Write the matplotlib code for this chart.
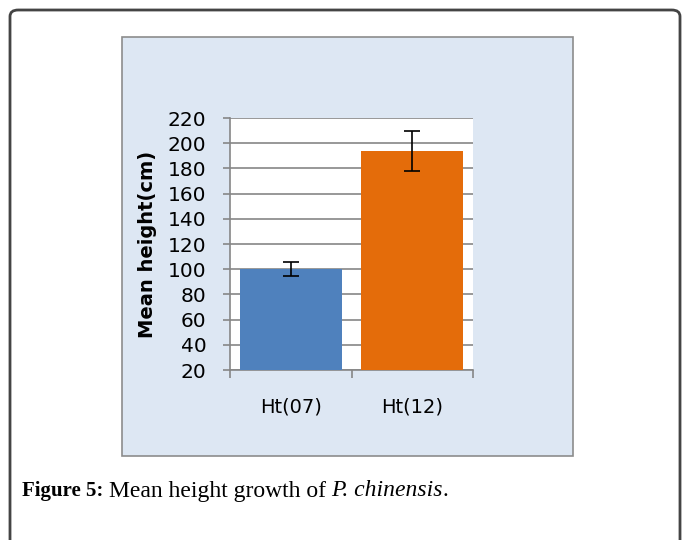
import matplotlib.pyplot as plt
from matplotlib.patches import FancyBboxPatch, Rectangle

# Data
categories = ["Ht(07)", "Ht(12)"]
means = [100, 194]
errors = [5.7, 16]
bar_colors = ["#4f81bd", "#e46c0a"]
yticks = list(range(20, 221, 20))

W, H = 683, 540
fig = plt.figure(figsize=(W / 100, H / 100), dpi=100)

# outer rounded frame of the figure block
frame = FancyBboxPatch((10 / W, -0.1), 670 / W, 1 - 10 / H + 0.1,
                       boxstyle="round,pad=0,rounding_size=0.012",
                       transform=fig.transFigure, facecolor="white",
                       edgecolor="#444444", linewidth=2, zorder=0)
fig.patches.append(frame)

# chart area background
chart_bg = Rectangle((122 / W, 1 - 456 / H), (573 - 122) / W, (456 - 37) / H,
                     transform=fig.transFigure, facecolor="#dde7f3",
                     edgecolor="#8c8c8c", linewidth=1.2, zorder=1)
fig.patches.append(chart_bg)

ax = fig.add_axes([230 / W, 1 - 370 / H, (473 - 230) / W, (370 - 118) / H])
ax.set_zorder(3)
ax.set_facecolor("white")
x = range(len(categories))
ax.bar(x, means, width=0.84, color=bar_colors, zorder=3)
ax.errorbar(x, means, yerr=errors, fmt="none", ecolor="black",
            elinewidth=1.2, capsize=6, capthick=1.2, zorder=4)

ax.set_xlim(-0.5, 1.5)
ax.set_ylim(20, 220)
ax.set_yticks(yticks)
ax.yaxis.grid(True, color="#868686", linewidth=1.2, zorder=0)
ax.set_axisbelow(True)
ax.set_xticks([-0.5, 0.5, 1.5], minor=False)
ax.set_xticklabels([])
ax.set_xticks(list(x), minor=True)
ax.set_xticklabels(categories, minor=True)
ax.tick_params(axis="x", which="major", length=6, color="#868686", width=1.2)
ax.tick_params(axis="x", which="minor", length=0, pad=20, labelsize=14)
ax.tick_params(axis="y", length=5, color="#868686", width=1.2, labelsize=14.5, pad=12)
for s in ["top", "right"]:
    ax.spines[s].set_visible(False)
for s in ["left", "bottom"]:
    ax.spines[s].set_color("#868686")
    ax.spines[s].set_linewidth(1.2)
ax.set_ylabel("Mean height(cm)", fontsize=14, fontweight="bold", labelpad=8)

# caption, pieces placed one after another
renderer = fig.canvas.get_renderer()
pieces = [("Figure 5: ", "bold", "normal", 15),
          ("Mean height growth of ", "normal", "normal", 17),
          ("P. chinensis", "normal", "italic", 17),
          (".", "normal", "normal", 17)]
xpos = 22
for txt, weight, style, size in pieces:
    t = fig.text(xpos / W, 1 - 491 / H, txt, fontsize=size, fontweight=weight,
                 style=style, family="Liberation Serif", va="center")
    xpos += t.get_window_extent(renderer).width

fig.savefig("out.png", dpi=100)
